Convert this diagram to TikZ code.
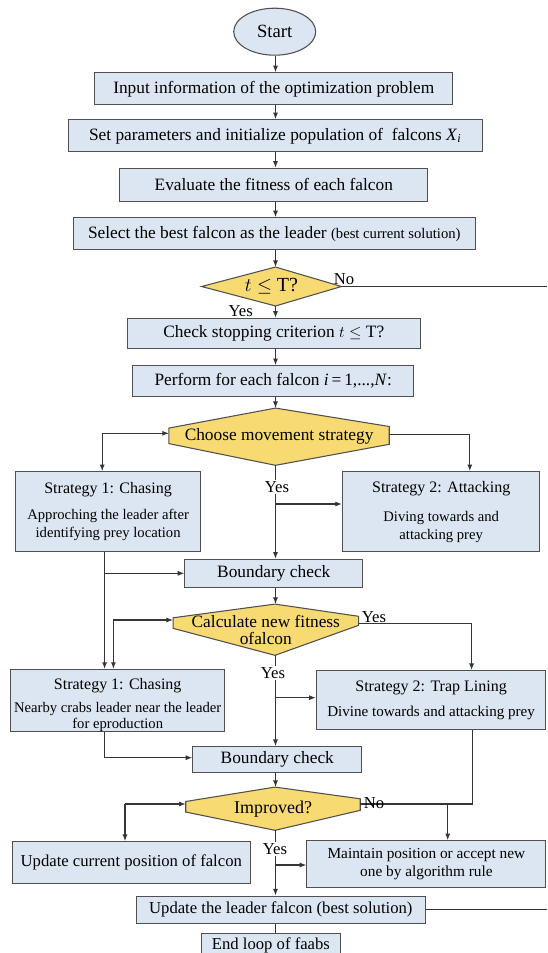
\documentclass[tikz,border=0pt]{standalone}
\usepackage{fontspec}
\setmainfont{Liberation Serif}
\usetikzlibrary{calc,arrows.meta,backgrounds,shapes.geometric}

\definecolor{boxblue}{HTML}{DCE6F2}
\definecolor{decyellow}{HTML}{F7DA72}
\definecolor{edgegray}{HTML}{505050}
\definecolor{linegray}{HTML}{353535}

\tikzset{
  wh/.style 2 args={minimum width=#1*0.75pt, minimum height=#2*0.75pt},
  procbox/.style={draw=edgegray, fill=boxblue, line width=0.8pt, inner sep=0pt,
    align=center, font=\fontsize{13}{15}\selectfont},
  decbox/.style={inner sep=0pt, align=center, font=\fontsize{13}{15}\selectfont},
  decshape/.style={draw=edgegray, fill=decyellow, line width=0.8pt, line join=miter},
  conn/.style={draw=linegray, line width=0.85pt},
  arr/.style={conn, -{Latex[length=5pt,width=3.8pt]}},
  tag/.style={inner sep=1pt, font=\fontsize{12.5}{14}\selectfont},
  tagcover/.style={tag, fill=white},
}
\newcommand{\titlefont}{\fontsize{12}{14}\selectfont}

\begin{document}
\begin{tikzpicture}[x=0.75pt,y=-0.75pt]
\useasboundingbox (0,0) rectangle (547,953);
\clip (0,0) rectangle (547,953);
\begin{scope}[on background layer]
  \fill[white] (0,0) rectangle (547,953);
\end{scope}

% main spine of the flow
\coordinate (axis) at (275.5,0);

% ---- process boxes and decisions ----
\node[procbox, ellipse, wh={82}{47}, font=\fontsize{14}{16}\selectfont] (start) at (274.7,31.7) {Start};
\node[procbox, wh={358}{32}] (input) at (273.8,88.8) {Input information of the optimization problem};
\node[procbox, wh={414}{32}] (setp) at (275.2,135.8) {Set parameters and initialize population of \ falcons \textit{X}\textsubscript{\textit{i}}};
\node[procbox, wh={308}{33}] (eval) at (273.8,184.8) {Evaluate the fitness of each falcon};
\node[procbox, wh={402}{32}] (select) at (274.3,233.8) {Select the best falcon as the leader {\fontsize{11}{13}\selectfont (best current solution)}};
\node[decbox, wh={139.4}{38.4}, font=\fontsize{15}{17}\selectfont] (cond) at (271.5,286.5) {$t \leq$ T?};
\node[procbox, wh={293}{30}] (check) at (273.8,333.3) {Check stopping criterion $t \leq$ T?};
\node[procbox, wh={281.5}{31}] (perform) at (273.2,381.2) {Perform for each falcon \textit{i}\,=\,1,...,\textit{N}:};
\node[decbox, wh={219.8}{56.7}] (choose) at (279.1,436.7) {Choose movement strategy};

\node[procbox, wh={185}{80}, font=\fontsize{11}{14}\selectfont] (s1a) at (108.1,511.7)
  {\titlefont Strategy 1: Chasing\\[5.2pt]Approching the leader after\\identifying prey location};
\node[procbox, wh={197.5}{80}, font=\fontsize{11}{13.2}\selectfont] (s2a) at (441.2,511.7)
  {\titlefont Strategy 2: Attacking\\[8.8pt]Diving towards and\\attacking prey};

\node[procbox, wh={177.8}{28}] (bc1) at (273.8,573.3) {Boundary check};
\node[decbox, wh={185}{50.7}, font=\fontsize{13}{12.5}\selectfont] (calc) at (265.8,629.7) {Calculate new fitness\\ofalcon};

\node[procbox, wh={214.5}{61}, font=\fontsize{11}{11.7}\selectfont] (s1b) at (117.7,700.5)
  {\titlefont\rule{0pt}{15pt}Strategy 1: Chasing\\[5.8pt]Nearby crabs leader near the leader\\for eproduction};
\node[procbox, wh={229.5}{59.3}, font=\fontsize{11.3}{14}\selectfont] (s2b) at (431.1,700.3)
  {\titlefont Strategy 2: Trap Lining\\[5.3pt]Divine towards and attacking prey};

\node[procbox, wh={168.8}{25.7}] (bc2) at (277.3,759.5) {Boundary check};
\node[decbox, wh={174}{42.7}, font=\fontsize{13.5}{15}\selectfont] (impr) at (273,808.7) {Improved?};
\node[procbox, wh={238.2}{42.3}, font=\fontsize{12.5}{14}\selectfont] (upd) at (131.3,862.8) {Update current position of falcon};
\node[procbox, wh={239}{46.6}, font=\fontsize{11.5}{13.3}\selectfont] (maint) at (426.4,864) {Maintain position or accept new\\one by algorithm rule};
\node[procbox, wh={289.5}{27.3}, font=\fontsize{12.5}{14}\selectfont] (leader) at (280.8,909.7) {Update the leader falcon (best solution)};
\node[procbox, wh={138.3}{24}, font=\fontsize{12.5}{14}\selectfont] (endl) at (270.9,945.3) {End loop of faabs};

% ---- decision outlines ----
\begin{scope}[on background layer]
  \path[decshape] ($(cond.north)+(4,0)$) -- (cond.east) -- ($(cond.south)+(4,0)$) -- (cond.west) -- cycle;
  \path[decshape] ($(choose.north)+(-3.6,0)$) -- ($(choose.north east)+(0,18.4)$)
    -- ($(choose.south east)+(0,-21)$) -- ($(choose.south)+(-3.6,0)$)
    -- ($(choose.south west)+(0,-21.7)$) -- ($(choose.north west)+(0,20)$) -- cycle;
  \path[decshape] ($(calc.north)+(9.2,0)$) -- ($(calc.north east)+(0,12.2)$)
    -- ($(calc.south east)+(0,-30)$) -- ($(calc.south)+(9.2,0)$)
    -- ($(calc.south west)+(0,-27)$) -- ($(calc.north west)+(0,13.7)$) -- cycle;
  \path[decshape] ($(impr.north)+(2,0)$) -- ($(impr.north east)+(0,11.7)$)
    -- ($(impr.south east)+(0,-20)$) -- ($(impr.south)+(2,0)$)
    -- ($(impr.south west)+(0,-18.3)$) -- ($(impr.north west)+(0,14.4)$) -- cycle;
\end{scope}

% ---- helper points for bends and free ends ----
\coordinate (edgeA) at (547,288);
\coordinate (edgeB) at (547,909.3);
\coordinate (l1) at (102.2,433.3);
\coordinate (r1) at (469.8,434.3);
\coordinate (y1) at (0,504);
\coordinate (lv) at (104.6,574);
\coordinate (l2) at (113.4,620);
\coordinate (r2) at (471.6,623.3);
\coordinate (y2) at (0,697.7);
\coordinate (bv) at (104.6,757.7);
\coordinate (l3) at (125,804);
\coordinate (r3) at (472.6,804);
\coordinate (r4) at (447.7,804);
\coordinate (y3) at (0,865);

% ---- straight run down the spine ----
\draw[arr] (start.south -| axis) -- (input.north -| axis);
\draw[arr] (input.south -| axis) -- (setp.north -| axis);
\draw[arr] (setp.south -| axis) -- (eval.north -| axis);
\draw[arr] (eval.south -| axis) -- (select.north -| axis);
\draw[arr] (select.south -| axis) -- (cond.north -| axis);
\draw[arr] (cond.south -| axis) -- (check.north -| axis);
\draw[conn] (cond.east) -- (cond.east -| edgeA);
\draw[arr] (check.south -| axis) -- (perform.north -| axis);
\draw[arr] (perform.south -| axis) -- (choose.north -| axis);

% movement strategy branches
\draw[arr] (l1) -- (l1 -| choose.west);
\draw[arr] (l1) -- (l1 |- s1a.north);
\draw[arr] (r1 -| choose.east) -- (r1) -- (r1 |- s2a.north);
\draw[arr] (choose.south -| axis) -- (bc1.north -| axis);
\draw[arr] (axis |- y1) -- (y1 -| s2a.west);
\draw[arr] (lv |- s1a.south) -- (lv |- s1b.north);
\draw[arr] (lv |- bc1.west) -- (bc1.west);
\draw[arr] (bc1.south -| axis) -- (calc.north -| axis);

% new fitness branches
\draw[arr] (l2) -- (l2 -| calc.west);
\draw[arr] (l2) -- (l2 |- s1b.north);
\draw[arr] (r2 -| calc.east) -- (r2) -- (r2 |- s2b.north);
\draw[arr] (calc.south -| axis) -- (bc2.north -| axis);
\draw[arr] (axis |- y2) -- (y2 -| s2b.west);
\draw[arr] (bv |- s1b.south) -- (bv) -- (bv -| bc2.west);
\draw[arr] (bc2.south -| axis) -- (impr.north -| axis);

% improvement branches
\draw[arr] (l3) -- (l3 -| impr.west);
\draw[arr] (l3) -- (l3 |- upd.north);
\draw[conn] (r3 |- s2b.south) -- (r3) -- (r3 -| impr.east);
\draw[arr] (r4) -- (r4 |- maint.north);
\draw[arr] (impr.south -| axis) -- (leader.north -| axis);
\draw[arr] (axis |- y3) -- (y3 -| maint.west);
\draw[conn] (leader.east) -- (leader.east -| edgeB);
\draw[conn] (leader.south -| axis) -- (endl.north -| axis);

% ---- branch labels ----
\node[tag] (noA) at (344,279) {No};
\node[tag] (yesA) at (240.7,310.7) {Yes};
\node[tagcover] (yesB) at (277,487.3) {Yes};
\node[tag] (yesC) at (374,616.7) {Yes};
\node[tagcover] (yesD) at (273,673.3) {Yes};
\node[tag] (noB) at (374,803.3) {No};
\node[tagcover] (yesE) at (275,849) {Yes};
\end{tikzpicture}
\end{document}
